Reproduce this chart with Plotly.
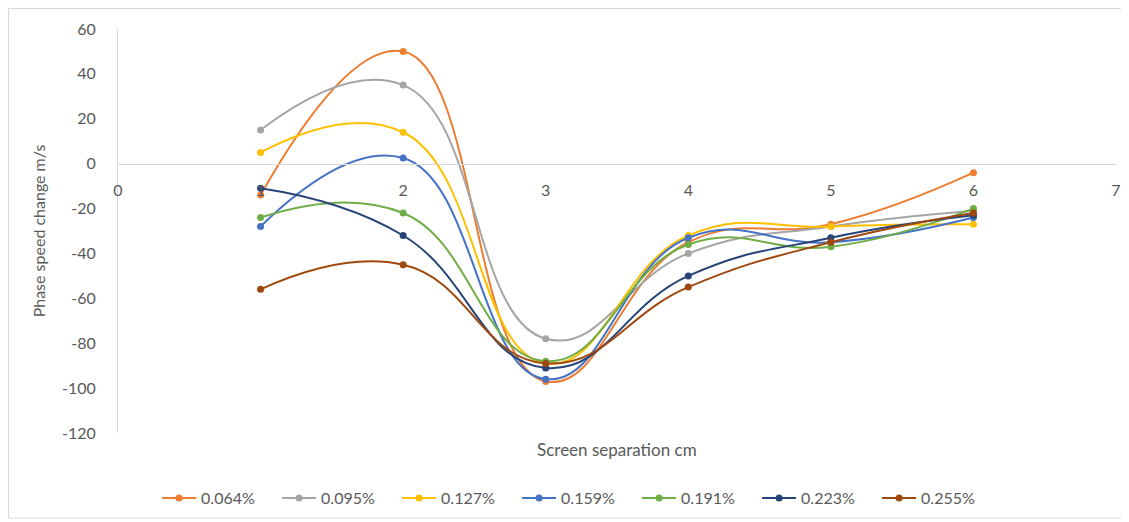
import plotly.graph_objects as go

x_vals = [1, 2, 3, 4, 5, 6]
series_names = ["0.064%", "0.095%", "0.127%", "0.159%", "0.191%", "0.223%", "0.255%"]
s_064 = [-14, 50, -97, -35, -27, -4]
s_095 = [15, 35, -78, -40, -28, -21]
s_127 = [5, 14, -89, -32, -28, -27]
s_159 = [-28, 2.5, -96, -33, -35, -24]
s_191 = [-24, -22, -88, -36, -37, -20]
s_223 = [-11, -32, -91, -50, -33, -23]
s_255 = [-56, -45, -89, -55, -35, -22]
series_values = [s_064, s_095, s_127, s_159, s_191, s_223, s_255]
colors = ["#ED7D31", "#A5A5A5", "#FFC000", "#4472C4", "#70AD47", "#264478", "#9E480E"]

x_ticks = [0, 1, 2, 3, 4, 5, 6, 7]
y_ticks = [60, 40, 20, 0, -20, -40, -60, -80, -100, -120]

fig = go.Figure()
for name, vals, c in zip(series_names, series_values, colors):
    fig.add_trace(go.Scatter(
        x=x_vals, y=vals, name=name, mode="lines+markers",
        line=dict(color=c, width=2, shape="spline", smoothing=1.3),
        marker=dict(color=c, size=7, symbol="circle"),
    ))

PW, PH = 998, 404
FS = 16
fig.update_layout(
    width=1121, height=514,
    margin=dict(l=110, r=13, t=21, b=89, autoexpand=False),
    paper_bgcolor="white", plot_bgcolor="white",
    font=dict(family="Lato, 'Open Sans', sans-serif", size=FS, color="#595959"),
    showlegend=True,
    legend=dict(orientation="h", x=0.46, xanchor="center", y=-65/PH, yanchor="middle",
                font=dict(size=FS, color="#595959"), entrywidth=71, entrywidthmode="pixels",
                itemwidth=34, tracegroupgap=0),
    xaxis=dict(range=[0, 7], tickvals=x_ticks, ticktext=[str(v) for v in x_ticks],
               anchor="free", position=120/180, showline=True, linecolor="#D9D9D9",
               linewidth=1, showgrid=False, zeroline=False, ticks="", automargin=False,
               ticklabelstandoff=12, tickfont=dict(size=FS, color="#595959")),
    yaxis=dict(range=[-120, 60], tickvals=y_ticks, ticktext=[str(v) for v in y_ticks],
               showline=True, linecolor="#D9D9D9", linewidth=1, showgrid=False,
               zeroline=False, ticks="", ticklabelstandoff=18, automargin=False,
               title=dict(text="Phase speed change m/s", font=dict(size=FS, color="#595959"), standoff=12),
               tickfont=dict(size=FS, color="#595959")),
    annotations=[dict(text="Screen separation cm", xref="paper", yref="paper",
                      x=0.5, y=-4/PH, xanchor="center", yanchor="top", showarrow=False,
                      font=dict(size=17, color="#595959"))],
    shapes=[dict(type="rect", xref="paper", yref="paper",
                 x0=-109.5/PW, x1=1005/PW, y0=-85/PH, y1=1 + 20.5/PH,
                 line=dict(color="#D9D9D9", width=1), fillcolor="rgba(0,0,0,0)", layer="below")],
)

fig.write_html("out.html")
